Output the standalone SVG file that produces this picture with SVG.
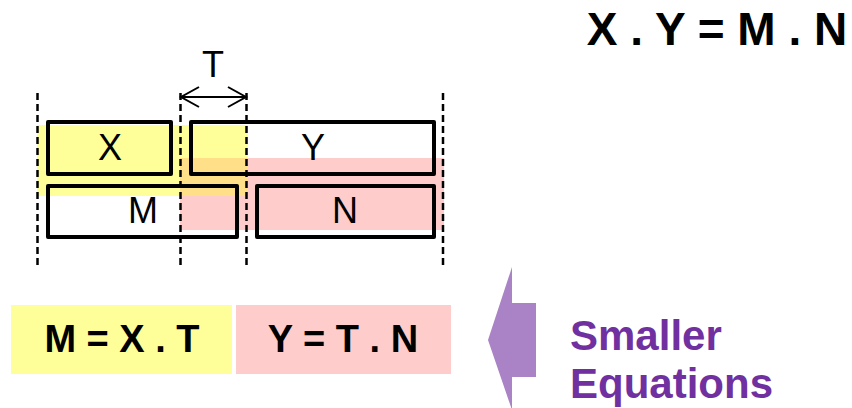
<svg xmlns="http://www.w3.org/2000/svg" width="852" height="408" viewBox="0 0 852 408">
<style>
.box{fill:none;stroke:#000;stroke-width:4;stroke-linejoin:round}
.dash{stroke:#000;stroke-width:2.5;stroke-dasharray:7,4;fill:none}
.lbl{font-family:"Liberation Sans",Arial,sans-serif;font-size:36px;fill:#000;text-anchor:middle}
.eq{font-family:"Liberation Sans",Arial,sans-serif;font-weight:bold;fill:#000;text-anchor:middle}
.pur{font-family:"Liberation Sans",Arial,sans-serif;font-weight:bold;font-size:42px;fill:#7030A0}
</style>
<rect width="852" height="408" fill="#fff"/>
<g id="highlights">
<rect x="37" y="125" width="211" height="71" fill="#FFFF99"/>
<rect x="180" y="158" width="264" height="72" fill="#FFCCCC"/>
<rect x="180" y="158" width="68" height="38" fill="#FFDF88"/>
</g>
<g id="guides">
<line class="dash" x1="37.5" y1="93" x2="37.5" y2="268"/>
<line class="dash" x1="180.5" y1="93" x2="180.5" y2="268"/>
<line class="dash" x1="246.5" y1="93" x2="246.5" y2="268"/>
<line class="dash" x1="443" y1="93" x2="443" y2="268"/>
</g>
<g id="node-X"><rect class="box" x="48" y="122" width="123" height="52"/><text class="lbl" x="110" y="160">X</text></g>
<g id="node-Y"><rect class="box" x="191" y="122" width="243" height="52"/><text class="lbl" x="313" y="160">Y</text></g>
<g id="node-M"><rect class="box" x="48" y="186" width="189" height="51"/><text class="lbl" x="143" y="223">M</text></g>
<g id="node-N"><rect class="box" x="257" y="186" width="177" height="51"/><text class="lbl" x="345" y="223">N</text></g>
<g id="connectors">
<line x1="181" y1="97" x2="246" y2="97" stroke="#000" stroke-width="2"/>
<path d="M199,87 L181,97 L199,107 M228,87 L246,97 L228,107" fill="none" stroke="#000" stroke-width="2"/>
</g>
<g id="label-T"><text class="lbl" x="213" y="77">T</text></g>
<g id="node-eq1"><rect x="11" y="305" width="221" height="69" fill="#FFFF99"/><text class="eq" x="122" y="352" font-size="38">M = X . T</text></g>
<g id="node-eq2"><rect x="236" y="305" width="215" height="69" fill="#FFCCCC"/><text class="eq" x="343" y="352" font-size="38">Y = T . N</text></g>
<g id="title"><text class="eq" x="717" y="45" font-size="46">X . Y = M . N</text></g>
<g id="arrow-big"><polygon points="488,340 512,267 512,303 536,303 536,377 512,377 512,410" fill="#A983C5"/></g>
<g id="caption"><text class="pur" x="570" y="350">Smaller</text><text class="pur" x="570" y="398">Equations</text></g>
</svg>
